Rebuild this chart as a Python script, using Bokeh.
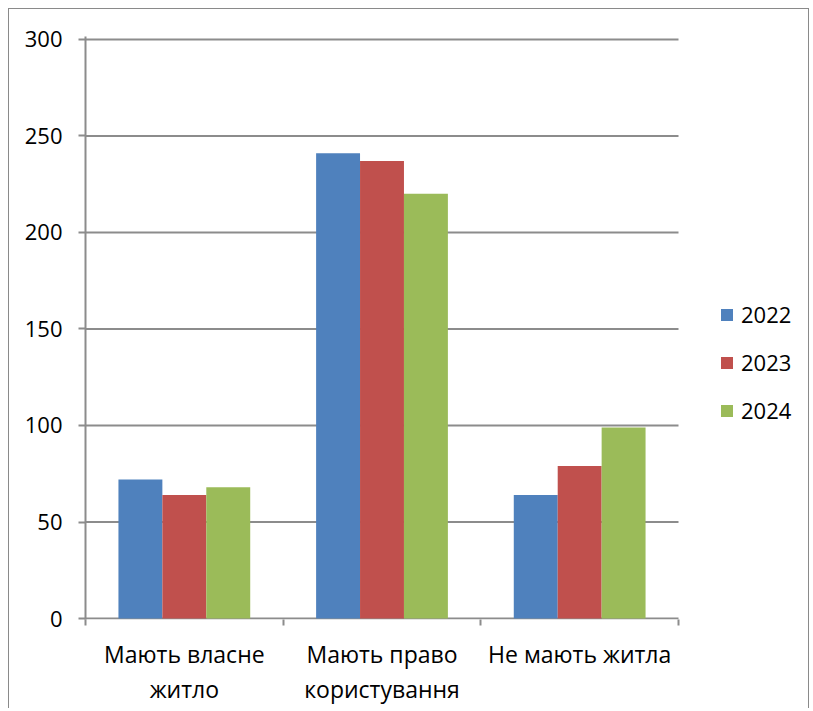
from bokeh.plotting import figure
from bokeh.models import (ColumnDataSource, FixedTicker, Range1d, Legend, LegendItem)
from bokeh.embed import file_html
from bokeh.resources import INLINE

categories = ["Мають власне\nжитло", "Мають право\nкористування", "Не мають житла"]
years = ["2022", "2023", "2024"]
values_2022 = [72, 241, 64]
values_2023 = [64, 237, 79]
values_2024 = [68, 220, 99]
colors = ["#4F81BD", "#C0504D", "#9BBB59"]
y_ticks = [0, 50, 100, 150, 200, 250, 300]

FONT = "Open Sans"
GRID = "#8c8c8c"

W, H = 801, 700
LEFT, RIGHT, TOP = 76, 10, 27
FRAME_H = 583
BOTTOM = H - TOP - FRAME_H
FRAME_W = W - LEFT - RIGHT
CAT_W_PX = 593  # width of the category area inside the frame
n = len(categories)
x_end = n * FRAME_W / CAT_W_PX

p = figure(width=W, height=H, output_backend="svg", toolbar_location=None,
           x_range=Range1d(0, x_end), y_range=Range1d(-0.5, 301.5),
           min_border_left=LEFT, min_border_right=RIGHT, min_border_top=TOP,
           min_border_bottom=BOTTOM)
p.styles = {"margin-left": "8px", "margin-top": "8px",
            "border-left": "1px solid #8a8a8a", "border-top": "1px solid #8a8a8a",
            "border-right": "1px solid #8a8a8a"}
p.outline_line_color = None
p.background_fill_color = "white"
p.border_fill_color = "white"

# horizontal grid lines, limited to the category area
grid_src = ColumnDataSource(dict(x0=[0] * len(y_ticks), x1=[n] * len(y_ticks), y=y_ticks))
p.segment(x0="x0", y0="y", x1="x1", y1="y", source=grid_src,
          line_color=GRID, line_width=2)

bar_w = 1.0 / 4.5
series = [values_2022, values_2023, values_2024]
renderers = []
for k, (vals, col) in enumerate(zip(series, colors)):
    xs = [i + 0.5 + (k - 1) * bar_w for i in range(n)]
    src = ColumnDataSource(dict(x=xs, top=vals))
    r = p.vbar(x="x", top="top", width=bar_w, bottom=0, source=src,
               fill_color=col, line_color=None)
    renderers.append(r)

# y axis
p.yaxis.ticker = FixedTicker(ticks=y_ticks)
p.yaxis.axis_line_color = GRID
p.yaxis.axis_line_width = 2
p.yaxis.major_tick_line_color = GRID
p.yaxis.major_tick_line_width = 2
p.yaxis.major_tick_out = 7
p.yaxis.major_tick_in = 0
p.yaxis.minor_tick_line_color = None
p.yaxis.major_label_standoff = 16
p.yaxis.major_label_text_font = FONT
p.yaxis.major_label_text_font_size = "22px"
p.yaxis.major_label_text_color = "black"

# x axis
p.xaxis.ticker = FixedTicker(ticks=[i + 0.5 for i in range(n)],
                             minor_ticks=list(range(n + 1)))
p.xaxis.major_label_overrides = {i + 0.5: c for i, c in enumerate(categories)}
p.xaxis.axis_line_color = None
p.xaxis.major_tick_line_color = None
p.xaxis.minor_tick_line_color = GRID
p.xaxis.minor_tick_line_width = 2
p.xaxis.minor_tick_out = 6
p.xaxis.minor_tick_in = 0
p.xaxis.major_label_standoff = 12
p.xaxis.major_label_text_font = FONT
p.xaxis.major_label_text_font_size = "23px"
p.xaxis.major_label_text_color = "black"
p.xaxis.major_label_text_line_height = 1.1

p.xgrid.grid_line_color = None
p.ygrid.grid_line_color = None

items = [LegendItem(label=y, renderers=[r]) for y, r in zip(years, renderers)]
legend = Legend(items=items, location=(634, 194), orientation="vertical",
                glyph_width=15, glyph_height=15, label_height=26,
                label_standoff=7, spacing=18, padding=0, margin=0,
                label_text_font=FONT, label_text_font_size="22px",
                label_text_color="black", border_line_color=None,
                background_fill_alpha=0)
p.add_layout(legend, "center")

open("out.html", "w").write(file_html(p, INLINE))
